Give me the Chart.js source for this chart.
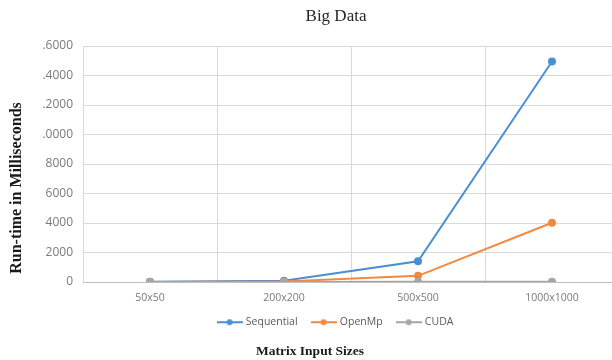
<!DOCTYPE html>
<html>
<head>
<meta charset="utf-8">
<script src="https://cdn.jsdelivr.net/npm/chart.js@4/dist/chart.umd.min.js"></script>
<style>
  html, body { margin: 0; padding: 0; background: #ffffff; }
  #frame { width: 612px; height: 360px; overflow: hidden; position: relative; }
  #box { width: 672px; height: 360px; position: absolute; left: 0; top: 0; }
</style>
</head>
<body>
<div id="frame"><div id="box"><canvas id="chart"></canvas></div></div>
<script>
// Matrix sizes along the horizontal axis
const categories = ['50x50', '200x200', '500x500', '1000x1000'];

// Run-time (ms) for each implementation
const sequential = [10, 90, 1400, 14950];
const openMp = [5, 40, 420, 4020];
const cuda = [2, 8, 15, 25];

// Vertical axis tick values and the text printed beside them
const yTickValues = [0, 2000, 4000, 6000, 8000, 10000, 12000, 14000, 16000];
const yTickLabels = ['0', '2000', '4000', '6000', '8000', '.0000', '.2000', '.4000', '.6000'];

const chartTitle = 'Big Data';
const yAxisTitle = 'Run-time in Milliseconds';
const xAxisTitle = 'Matrix Input Sizes';

const COLORS = { seq: '#4a8fd6', omp: '#f4883c', cuda: '#a6a6a6' };

// legend marker: short line with a dot in the middle
function lineMarker(color) {
  const c = document.createElement('canvas');
  c.width = 26; c.height = 8;
  const g = c.getContext('2d');
  g.strokeStyle = color; g.lineWidth = 2;
  g.beginPath(); g.moveTo(0, 4); g.lineTo(26, 4); g.stroke();
  g.fillStyle = color;
  g.beginPath(); g.arc(13, 4, 3, 0, Math.PI * 2); g.fill();
  return c;
}

// free-standing axis captions
const captions = {
  id: 'captions',
  afterDraw(chart) {
    const ctx = chart.ctx;
    ctx.save();
    ctx.fillStyle = '#1a1a1a';
    ctx.textAlign = 'center';
    ctx.textBaseline = 'middle';
    ctx.font = 'bold 13.5px "Liberation Serif", "Times New Roman", serif';
    ctx.fillText(xAxisTitle, 310, 352);
    ctx.translate(17, 188);
    ctx.rotate(-Math.PI / 2);
    ctx.font = 'bold 16px "Liberation Serif", "Times New Roman", serif';
    ctx.fillText(yAxisTitle, 0, 0);
    ctx.restore();
  }
};

const mk = (label, data, color, order) => ({
  label, data, order,
  borderColor: color, backgroundColor: color,
  pointBackgroundColor: color, pointBorderColor: color,
  borderWidth: 2, pointRadius: 3, pointHoverRadius: 3,
  tension: 0, fill: false
});

new Chart(document.getElementById('chart'), {
  type: 'line',
  data: {
    labels: categories,
    datasets: [
      mk('Sequential', sequential, COLORS.seq, 3),
      mk('OpenMp', openMp, COLORS.omp, 2),
      mk('CUDA', cuda, COLORS.cuda, 1)
    ]
  },
  plugins: [captions],
  options: {
    responsive: true,
    maintainAspectRatio: false,
    animation: false,
    layout: { padding: { left: 0, right: 0, top: 0, bottom: 22.5 } },
    plugins: {
      tooltip: { enabled: false },
      title: {
        display: true,
        text: chartTitle,
        color: '#262626',
        font: { family: '"Liberation Serif", "Times New Roman", serif', size: 17, weight: 'normal', lineHeight: 1.2 },
        padding: { top: 6.8, bottom: 18.8 }
      },
      legend: {
        position: 'bottom',
        labels: {
          usePointStyle: true,
          pointStyleWidth: 22,
          padding: 15,
          color: '#595959',
          font: { family: '"Open Sans", sans-serif', size: 10.5 },
          sort: (a, b) => a.datasetIndex - b.datasetIndex,
          generateLabels(chart) {
            return chart.data.datasets.map((ds, i) => ({
              text: ds.label,
              fillStyle: ds.borderColor,
              strokeStyle: ds.borderColor,
              lineWidth: 0,
              pointStyle: lineMarker(ds.borderColor),
              hidden: false,
              datasetIndex: i,
              fontColor: '#595959'
            }));
          }
        }
      }
    },
    scales: {
      x: {
        offset: true,
        grid: { offset: true, color: '#d9d9d9', drawTicks: false },
        border: { color: '#bfbfbf' },
        ticks: {
          padding: 10,
          color: '#7a7a7a',
          font: { family: '"Open Sans", sans-serif', size: 10.5 }
        },
        afterFit(scale) { scale.height = 20; }
      },
      y: {
        min: 0,
        max: 16000,
        grid: { color: '#d9d9d9', drawTicks: false },
        border: { display: false },
        afterBuildTicks(scale) { scale.ticks = yTickValues.map(v => ({ value: v })); },
        ticks: {
          padding: 10,
          color: '#7a7a7a',
          font: { family: '"Open Sans", sans-serif', size: 12 },
          callback: (value, index) => yTickLabels[index]
        },
        afterFit(scale) { scale.width = 83; }
      },
      // empty margin on the right of the plot
      yRight: {
        position: 'right',
        min: 0,
        max: 1,
        grid: { display: false, drawTicks: false },
        border: { display: false },
        ticks: { display: false },
        afterFit(scale) { scale.width = 53; }
      }
    }
  }
});
</script>
</body>
</html>
